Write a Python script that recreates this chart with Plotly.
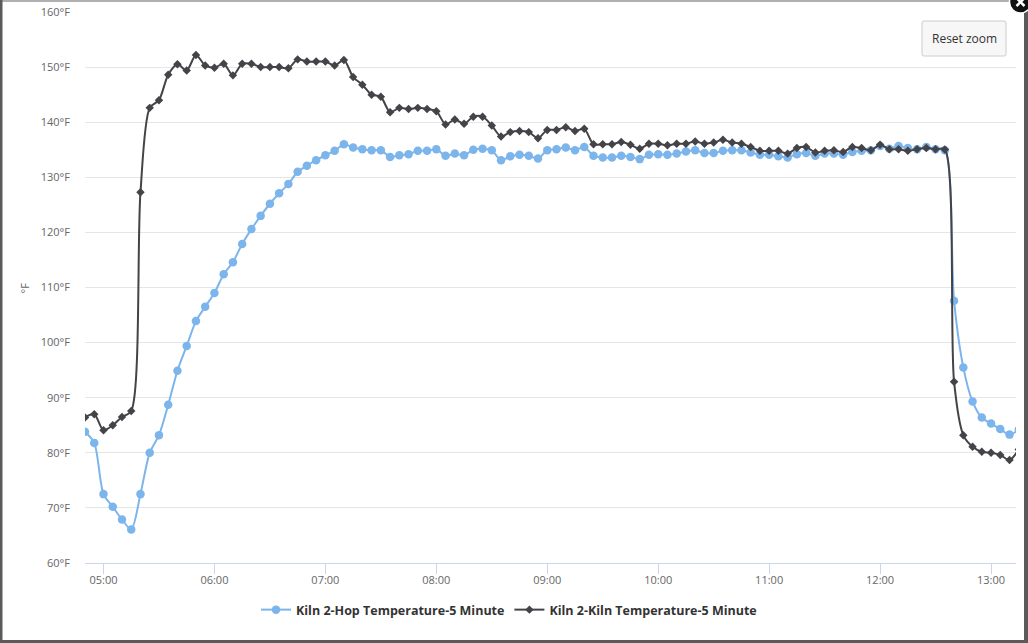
import plotly.graph_objects as go
import pandas as pd

# ---- data ----
hop_temp = [83.8, 81.8, 72.5, 70.2, 67.9, 66.1, 72.5, 80.0, 83.2, 88.7,
            94.9, 99.4, 103.9, 106.5, 109.0, 112.4, 114.6, 117.9, 120.6, 123.0,
            125.2, 127.1, 128.8, 131.0, 132.1, 133.1, 134.0, 134.8, 136.0, 135.4,
            135.1, 134.9, 134.9, 133.7, 134.0, 134.2, 134.8, 134.8, 135.1, 133.9,
            134.3, 134.0, 135.0, 135.2, 134.9, 133.1, 133.8, 134.1, 133.9, 133.4,
            134.9, 135.1, 135.4, 134.9, 135.5, 133.9, 133.6, 133.6, 133.9, 133.7,
            133.3, 134.1, 134.2, 134.1, 134.3, 134.7, 134.9, 134.4, 134.4, 134.8,
            134.9, 134.9, 134.5, 134.1, 134.1, 133.8, 133.6, 134.2, 134.4, 133.9,
            134.3, 134.3, 134.1, 134.6, 134.8, 134.9, 135.7, 135.2, 135.7, 135.3,
            135.1, 135.5, 135.1, 134.9, 107.6, 95.5, 89.3, 86.4, 85.3, 84.3,
            83.3, 84.2]
kiln_temp = [86.4, 87.0, 84.1, 85.0, 86.5, 87.6, 127.3, 142.6, 144.0, 148.6,
             150.5, 149.4, 152.2, 150.3, 149.9, 150.6, 148.5, 150.6, 150.6, 150.0,
             150.0, 150.0, 149.8, 151.4, 151.0, 151.0, 151.0, 150.3, 151.3, 148.2,
             146.8, 145.0, 144.6, 141.8, 142.6, 142.4, 142.6, 142.4, 142.0, 139.6,
             140.5, 139.7, 141.0, 141.0, 139.4, 137.4, 138.2, 138.4, 138.2, 137.1,
             138.6, 138.6, 139.1, 138.4, 138.8, 136.0, 136.0, 136.0, 136.4, 135.9,
             135.2, 136.1, 136.1, 135.8, 136.1, 136.1, 136.5, 136.1, 136.3, 136.8,
             136.3, 136.1, 135.5, 134.8, 134.8, 134.8, 134.3, 135.3, 135.5, 134.5,
             134.8, 134.9, 134.6, 135.5, 135.3, 134.9, 135.9, 135.1, 135.1, 134.8,
             135.1, 135.3, 135.1, 135.05, 92.9, 83.2, 81.1, 80.2, 80.0, 79.6,
             78.7, 80.6]
start_time = "2024-01-01 04:50"
times = pd.date_range(start_time, periods=len(hop_temp), freq="5min")

series_names = ["Kiln 2-Hop Temperature-5 Minute", "Kiln 2-Kiln Temperature-5 Minute"]
hour_ticks = ["05:00", "06:00", "07:00", "08:00", "09:00", "10:00", "11:00", "12:00", "13:00"]
y_ticks = [60, 70, 80, 90, 100, 110, 120, 130, 140, 150, 160]

W, H = 1028, 643
ML, MR, MT, MB = 85, 12, 12, 80
PW, PH = W - ML - MR, H - MT - MB


def fx(px):
    return (px - ML) / PW


def fy(py):
    return (H - MB - py) / PH


FONT = "Open Sans"

fig = go.Figure()
fig.add_trace(go.Scatter(
    x=times, y=hop_temp, name=series_names[0], mode="lines+markers",
    line=dict(color="#7cb5ec", width=2, shape="spline", smoothing=0.8),
    marker=dict(symbol="circle", size=8.5, color="#7cb5ec"),
))
fig.add_trace(go.Scatter(
    x=times, y=kiln_temp, name=series_names[1], mode="lines+markers",
    line=dict(color="#434348", width=2, shape="spline", smoothing=0.8),
    marker=dict(symbol="diamond", size=6.5, color="#434348"),
))

tick_dates = [pd.Timestamp("2024-01-01 " + t) for t in hour_ticks]

fig.update_layout(
    width=W, height=H,
    margin=dict(l=ML, r=MR, t=MT, b=MB, autoexpand=False),
    paper_bgcolor="white", plot_bgcolor="white",
    font=dict(family=FONT, color="#666666", size=11),
    showlegend=True,
    legend=dict(orientation="h", x=fx(509), xanchor="center", y=fy(610), yanchor="middle",
                font=dict(family=FONT, size=12.5, color="#333333", weight="bold"),
                itemwidth=30, bgcolor="rgba(0,0,0,0)"),
    xaxis=dict(type="date",
               range=[pd.Timestamp("2024-01-01 04:50"), pd.Timestamp("2024-01-01 13:13:30")],
               tickmode="array", tickvals=tick_dates, ticktext=hour_ticks,
               ticks="outside", ticklen=10, tickcolor="#ccd6eb", tickwidth=1,
               ticklabelstandoff=-3,
               showline=True, linecolor="#ccd6eb", linewidth=1,
               showgrid=False, zeroline=False,
               tickfont=dict(family=FONT, size=11, color="#666666")),
    yaxis=dict(range=[60, 160], tickmode="array", tickvals=y_ticks,
               ticktext=[f"{v}°F" for v in y_ticks],
               showgrid=True, gridcolor="#e6e6e6", gridwidth=1,
               showline=False, zeroline=False, ticks="", ticklabelstandoff=14,
               tickfont=dict(family=FONT, size=11, color="#666666")),
    hovermode=False,
)

# y-axis title
fig.add_annotation(text="°F", x=fx(23.5), y=fy(288), xref="paper", yref="paper",
                   xanchor="center", yanchor="middle",
                   textangle=-90, showarrow=False,
                   font=dict(family=FONT, size=11, color="#666666"))

shapes = []
# Reset zoom button
bx0, by0, bx1, by1, r = 922, 21, 1006, 56, 2
path = (f"M {fx(bx0 + r)} {fy(by0)} L {fx(bx1 - r)} {fy(by0)} "
        f"Q {fx(bx1)} {fy(by0)} {fx(bx1)} {fy(by0 + r)} L {fx(bx1)} {fy(by1 - r)} "
        f"Q {fx(bx1)} {fy(by1)} {fx(bx1 - r)} {fy(by1)} L {fx(bx0 + r)} {fy(by1)} "
        f"Q {fx(bx0)} {fy(by1)} {fx(bx0)} {fy(by1 - r)} L {fx(bx0)} {fy(by0 + r)} "
        f"Q {fx(bx0)} {fy(by0)} {fx(bx0 + r)} {fy(by0)} Z")
shapes.append(dict(type="path", path=path, xref="paper", yref="paper",
                   fillcolor="#f7f7f7", line=dict(color="#cccccc", width=1)))
fig.add_annotation(text="Reset zoom", x=fx(964), y=fy(38.5), xref="paper", yref="paper",
                   xanchor="center", yanchor="middle",
                   showarrow=False, font=dict(family=FONT, size=12, color="#333333"))

# modal borders
shapes.append(dict(type="rect", xref="paper", yref="paper", x0=fx(0), x1=fx(W), y0=fy(0), y1=fy(2),
                   fillcolor="#b0b0b0", line=dict(width=0)))
shapes.append(dict(type="rect", xref="paper", yref="paper", x0=fx(0), x1=fx(2.5), y0=fy(0), y1=fy(H),
                   fillcolor="#5a5a5a", line=dict(width=0)))
shapes.append(dict(type="rect", xref="paper", yref="paper", x0=fx(0), x1=fx(W), y0=fy(640), y1=fy(H),
                   fillcolor="#5a5a5a", line=dict(width=0)))
shapes.append(dict(type="rect", xref="paper", yref="paper", x0=fx(1024), x1=fx(W), y0=fy(0), y1=fy(H),
                   fillcolor="#5a5a5a", line=dict(width=0)))
# close icon
cx, cy, cr = 1020.5, 2, 11
shapes.append(dict(type="circle", xref="paper", yref="paper",
                   x0=fx(cx - cr), x1=fx(cx + cr), y0=fy(cy - cr), y1=fy(cy + cr),
                   fillcolor="#111111", line=dict(color="white", width=1.5)))
d = 4
shapes.append(dict(type="line", xref="paper", yref="paper",
                   x0=fx(cx - d), x1=fx(cx + d), y0=fy(cy - d), y1=fy(cy + d),
                   line=dict(color="white", width=2.5)))
shapes.append(dict(type="line", xref="paper", yref="paper",
                   x0=fx(cx - d), x1=fx(cx + d), y0=fy(cy + d), y1=fy(cy - d),
                   line=dict(color="white", width=2.5)))
fig.update_layout(shapes=shapes)

fig.write_html("out.html", config={"displayModeBar": False},
               post_script="document.body.style.margin='0px';document.body.style.overflow='hidden';")
